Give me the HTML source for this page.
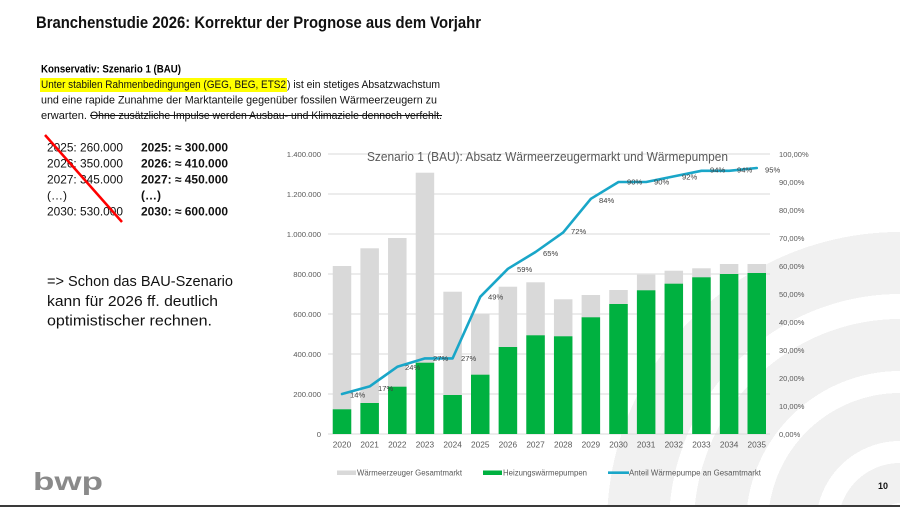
<!DOCTYPE html>
<html><head><meta charset="utf-8"><style>
html,body{margin:0;padding:0;background:#fff;width:900px;height:507px;overflow:hidden;}
svg{display:block;}
text{font-family:"Liberation Sans",sans-serif;}
</style></head><body>
<svg width="900" height="507" viewBox="0 0 900 507" xmlns="http://www.w3.org/2000/svg">
<defs>
<radialGradient id="rg" gradientUnits="userSpaceOnUse" cx="900" cy="525" r="300">
<stop offset="0" stop-color="#f1f1f1" stop-opacity="0"/>
<stop offset="0.0733" stop-color="#f1f1f1" stop-opacity="0"/>
<stop offset="0.0733" stop-color="#f1f1f1" stop-opacity="1"/>
<stop offset="0.2067" stop-color="#f1f1f1" stop-opacity="1"/>
<stop offset="0.2067" stop-color="#f1f1f1" stop-opacity="0"/>
<stop offset="0.28" stop-color="#f1f1f1" stop-opacity="0"/>
<stop offset="0.28" stop-color="#f1f1f1" stop-opacity="1"/>
<stop offset="0.44" stop-color="#f1f1f1" stop-opacity="1"/>
<stop offset="0.44" stop-color="#f1f1f1" stop-opacity="0"/>
<stop offset="0.5133" stop-color="#f1f1f1" stop-opacity="0"/>
<stop offset="0.5133" stop-color="#f1f1f1" stop-opacity="1"/>
<stop offset="0.6867" stop-color="#f1f1f1" stop-opacity="1"/>
<stop offset="0.6867" stop-color="#f1f1f1" stop-opacity="0"/>
<stop offset="0.77" stop-color="#f1f1f1" stop-opacity="0"/>
<stop offset="0.77" stop-color="#f1f1f1" stop-opacity="1"/>
<stop offset="0.9767" stop-color="#f1f1f1" stop-opacity="1"/>
<stop offset="0.9767" stop-color="#f1f1f1" stop-opacity="0"/>
<stop offset="1" stop-color="#f1f1f1" stop-opacity="0"/>
</radialGradient>
</defs>
<rect width="900" height="507" fill="#fff"/>
<!-- watermark rings -->
<rect x="590" y="220" width="310" height="285" fill="url(#rg)"/>
<!-- title -->
<text x="36" y="28" font-size="17" font-weight="bold" fill="#111" textLength="445" lengthAdjust="spacingAndGlyphs">Branchenstudie 2026: Korrektur der Prognose aus dem Vorjahr</text>
<!-- paragraph -->
<text x="41" y="72.5" font-size="11" font-weight="bold" fill="#000" textLength="140" lengthAdjust="spacingAndGlyphs">Konservativ: Szenario 1 (BAU)</text>
<rect x="40" y="78" width="247" height="14" fill="#ffff00"/>
<text x="41" y="88" font-size="11" fill="#111" textLength="245" lengthAdjust="spacingAndGlyphs">Unter stabilen Rahmenbedingungen (GEG, BEG, ETS2</text>
<text x="287" y="88" font-size="11" fill="#111" textLength="153" lengthAdjust="spacingAndGlyphs">) ist ein stetiges Absatzwachstum</text>
<text x="41" y="103.5" font-size="11" fill="#111" textLength="396" lengthAdjust="spacingAndGlyphs">und eine rapide Zunahme der Marktanteile gegenüber fossilen Wärmeerzeugern zu</text>
<text x="41" y="119" font-size="11" fill="#111" textLength="46" lengthAdjust="spacingAndGlyphs">erwarten.</text>
<text x="90" y="119" font-size="11" fill="#111" textLength="352" lengthAdjust="spacingAndGlyphs">Ohne zusätzliche Impulse werden Ausbau- und Klimaziele dennoch verfehlt.</text>
<line x1="90" y1="115.5" x2="442" y2="115.5" stroke="#111" stroke-width="1"/>
<!-- list -->
<g font-size="12" fill="#111">
<text x="47" y="151.5" textLength="76" lengthAdjust="spacingAndGlyphs">2025: 260.000</text>
<text x="47" y="167.5" textLength="76" lengthAdjust="spacingAndGlyphs">2026: 350.000</text>
<text x="47" y="183.3" textLength="76" lengthAdjust="spacingAndGlyphs">2027: 345.000</text>
<text x="47" y="199.3">(…)</text>
<text x="47" y="215.3" textLength="76" lengthAdjust="spacingAndGlyphs">2030: 530.000</text>
</g>
<g font-size="12" font-weight="bold" fill="#111">
<text x="141" y="151.5" textLength="87" lengthAdjust="spacingAndGlyphs">2025: ≈ 300.000</text>
<text x="141" y="167.5" textLength="87" lengthAdjust="spacingAndGlyphs">2026: ≈ 410.000</text>
<text x="141" y="183.3" textLength="87" lengthAdjust="spacingAndGlyphs">2027: ≈ 450.000</text>
<text x="141" y="199.3">(…)</text>
<text x="141" y="215.3" textLength="87" lengthAdjust="spacingAndGlyphs">2030: ≈ 600.000</text>
</g>
<line x1="45" y1="135" x2="122" y2="222" stroke="#ff0000" stroke-width="2.5"/>
<g font-size="15" fill="#111">
<text x="47" y="286" textLength="186" lengthAdjust="spacingAndGlyphs">=&gt; Schon das BAU-Szenario</text>
<text x="47" y="306" textLength="171" lengthAdjust="spacingAndGlyphs">kann für 2026 ff. deutlich</text>
<text x="47" y="325.5" textLength="165" lengthAdjust="spacingAndGlyphs">optimistischer rechnen.</text>
</g>
<!-- chart gridlines -->
<g stroke="#d9d9d9" stroke-width="1">
<line x1="328" y1="154" x2="770" y2="154"/>
<line x1="328" y1="194" x2="770" y2="194"/>
<line x1="328" y1="234" x2="770" y2="234"/>
<line x1="328" y1="274" x2="770" y2="274"/>
<line x1="328" y1="314" x2="770" y2="314"/>
<line x1="328" y1="354" x2="770" y2="354"/>
<line x1="328" y1="394" x2="770" y2="394"/>
<line x1="328" y1="434" x2="770" y2="434"/>
</g>
<!-- chart title -->
<text x="367" y="161" font-size="12.5" fill="#595959" textLength="361" lengthAdjust="spacingAndGlyphs">Szenario 1 (BAU): Absatz Wärmeerzeugermarkt und Wärmepumpen</text>
<!-- bars grey -->
<g fill="#d9d9d9">
<rect x="332.75" y="266" width="18.5" height="168"/>
<rect x="360.4" y="248.3" width="18.5" height="185.7"/>
<rect x="388.05" y="238" width="18.5" height="196"/>
<rect x="415.7" y="172.7" width="18.5" height="261.3"/>
<rect x="443.35" y="291.7" width="18.5" height="142.3"/>
<rect x="471" y="314" width="18.5" height="120"/>
<rect x="498.65" y="286.7" width="18.5" height="147.3"/>
<rect x="526.3" y="282.3" width="18.5" height="151.7"/>
<rect x="553.95" y="299.3" width="18.5" height="134.7"/>
<rect x="581.6" y="295" width="18.5" height="139"/>
<rect x="609.25" y="290" width="18.5" height="144"/>
<rect x="636.9" y="274.7" width="18.5" height="159.3"/>
<rect x="664.55" y="270.7" width="18.5" height="163.3"/>
<rect x="692.2" y="268.3" width="18.5" height="165.7"/>
<rect x="719.85" y="264" width="18.5" height="170"/>
<rect x="747.5" y="264" width="18.5" height="170"/>
</g>
<!-- bars green -->
<g fill="#00b140">
<rect x="332.75" y="409.3" width="18.5" height="24.7"/>
<rect x="360.4" y="403" width="18.5" height="31"/>
<rect x="388.05" y="386.7" width="18.5" height="47.3"/>
<rect x="415.7" y="362.7" width="18.5" height="71.3"/>
<rect x="443.35" y="395" width="18.5" height="39"/>
<rect x="471" y="374.7" width="18.5" height="59.3"/>
<rect x="498.65" y="347" width="18.5" height="87"/>
<rect x="526.3" y="335.3" width="18.5" height="98.7"/>
<rect x="553.95" y="336.3" width="18.5" height="97.7"/>
<rect x="581.6" y="317.3" width="18.5" height="116.7"/>
<rect x="609.25" y="304" width="18.5" height="130"/>
<rect x="636.9" y="290.3" width="18.5" height="143.7"/>
<rect x="664.55" y="283.7" width="18.5" height="150.3"/>
<rect x="692.2" y="277.3" width="18.5" height="156.7"/>
<rect x="719.85" y="274" width="18.5" height="160"/>
<rect x="747.5" y="273" width="18.5" height="161"/>
</g>
<!-- line -->
<polyline fill="none" stroke="#19a6c8" stroke-width="2.6" stroke-linejoin="round" stroke-linecap="round"
points="342,394 369.65,386.4 397.3,366.8 424.95,358.4 452.6,358.4 480.25,296.8 507.9,268.8 535.55,252 563.2,232.4 590.85,198.8 618.5,182 646.15,182 673.8,176.4 701.45,170.8 729.1,170.8 756.75,168"/>
<!-- data labels -->
<g font-size="7.6" fill="#404040">
<text x="350" y="397.5">14%</text>
<text x="378" y="391">17%</text>
<text x="405" y="370">24%</text>
<text x="433" y="361">27%</text>
<text x="461" y="361">27%</text>
<text x="488" y="299.5">49%</text>
<text x="517" y="272">59%</text>
<text x="543" y="256">65%</text>
<text x="571" y="234">72%</text>
<text x="599" y="203">84%</text>
<text x="627" y="184.5">90%</text>
<text x="654" y="184.5">90%</text>
<text x="682" y="179.5">92%</text>
<text x="710" y="172.5">94%</text>
<text x="737" y="172.5">94%</text>
<text x="765" y="172.5">95%</text>
</g>
<!-- left axis labels -->
<g font-size="7.7" fill="#595959" text-anchor="end">
<text x="321" y="156.8">1.400.000</text>
<text x="321" y="196.8">1.200.000</text>
<text x="321" y="236.8">1.000.000</text>
<text x="321" y="276.8">800.000</text>
<text x="321" y="316.8">600.000</text>
<text x="321" y="356.8">400.000</text>
<text x="321" y="396.8">200.000</text>
<text x="321" y="436.8">0</text>
</g>
<!-- right axis labels -->
<g font-size="7.5" fill="#595959">
<text x="779" y="156.8">100,00%</text>
<text x="779" y="184.8">90,00%</text>
<text x="779" y="212.8">80,00%</text>
<text x="779" y="240.8">70,00%</text>
<text x="779" y="268.8">60,00%</text>
<text x="779" y="296.8">50,00%</text>
<text x="779" y="324.8">40,00%</text>
<text x="779" y="352.8">30,00%</text>
<text x="779" y="380.8">20,00%</text>
<text x="779" y="408.8">10,00%</text>
<text x="779" y="436.8">0,00%</text>
</g>
<!-- year labels -->
<g font-size="8.3" fill="#595959" text-anchor="middle">
<text x="342" y="447.3">2020</text>
<text x="369.65" y="447.3">2021</text>
<text x="397.3" y="447.3">2022</text>
<text x="424.95" y="447.3">2023</text>
<text x="452.6" y="447.3">2024</text>
<text x="480.25" y="447.3">2025</text>
<text x="507.9" y="447.3">2026</text>
<text x="535.55" y="447.3">2027</text>
<text x="563.2" y="447.3">2028</text>
<text x="590.85" y="447.3">2029</text>
<text x="618.5" y="447.3">2030</text>
<text x="646.15" y="447.3">2031</text>
<text x="673.8" y="447.3">2032</text>
<text x="701.45" y="447.3">2033</text>
<text x="729.1" y="447.3">2034</text>
<text x="756.75" y="447.3">2035</text>
</g>
<!-- legend -->
<rect x="337" y="470.5" width="19" height="4.5" fill="#d9d9d9"/>
<text x="357" y="475.5" font-size="8" fill="#595959" textLength="105" lengthAdjust="spacingAndGlyphs">Wärmeerzeuger Gesamtmarkt</text>
<rect x="483" y="470.5" width="19" height="4.5" fill="#00b140"/>
<text x="503" y="475.5" font-size="8" fill="#595959" textLength="84" lengthAdjust="spacingAndGlyphs">Heizungswärmepumpen</text>
<line x1="608" y1="472.7" x2="629" y2="472.7" stroke="#19a6c8" stroke-width="2.6"/>
<text x="629" y="475.5" font-size="8" fill="#595959" textLength="132" lengthAdjust="spacingAndGlyphs">Anteil Wärmepumpe an Gesamtmarkt</text>
<!-- logo -->
<text x="33" y="490" font-size="25" font-weight="bold" fill="#8a8a8a" textLength="70" lengthAdjust="spacingAndGlyphs">bwp</text>
<!-- page number -->
<text x="878" y="489" font-size="9" font-weight="bold" fill="#111">10</text>
<!-- bottom line -->
<rect x="0" y="505" width="900" height="2" fill="#3a3a3a"/>
</svg>
</body></html>
